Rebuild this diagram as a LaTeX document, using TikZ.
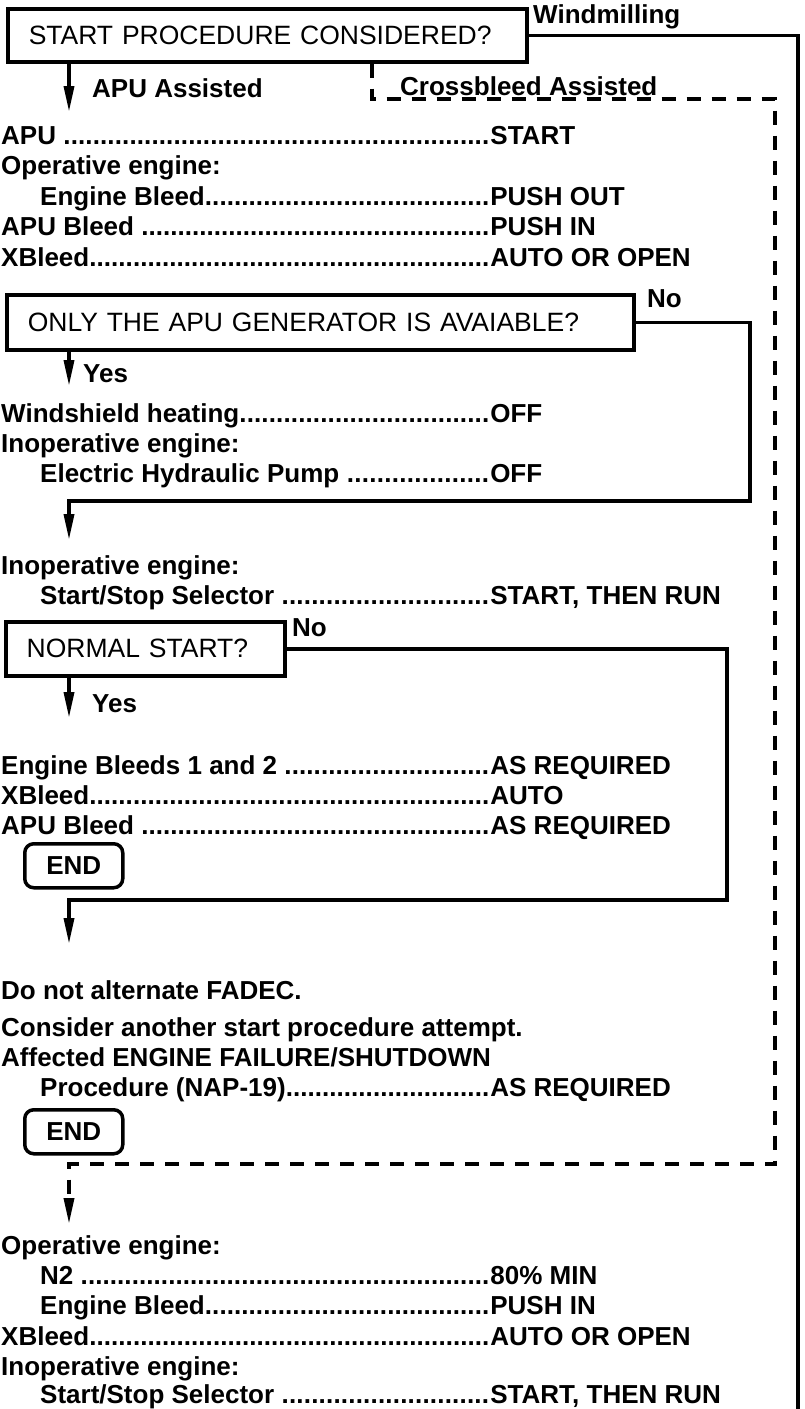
\documentclass[tikz,border=0pt]{standalone}
\usepackage{fontspec}
\setmainfont{Liberation Sans}
\usetikzlibrary{arrows.meta}
\newcommand{\lead}[3]{\makebox[#1pt][l]{#2\xleaders\hbox{.}\hfill\kern1pt}#3}
\tikzset{
  x=1pt, y=-1pt,
  qbox/.style={draw, line width=3.5pt, inner xsep=21pt, inner ysep=0pt, anchor=north west,
    align=left, font=\fontsize{26.5}{30}\selectfont},
  endbox/.style={draw, line width=3.5pt, rounded corners=9pt, anchor=north west, inner sep=0pt,
    minimum width=98pt, minimum height=44pt, font=\bfseries\fontsize{26}{30}\selectfont},
  row/.style={anchor=base west, inner sep=0pt, font=\bfseries\fontsize{26}{30}\selectfont},
  lbl/.style={anchor=base west, inner sep=0pt, font=\bfseries\fontsize{26}{30}\selectfont},
  conn/.style={line width=3.5pt},
  arr/.style={line width=3.5pt, -{Triangle[length=26pt,width=10pt]}},
  dconn/.style={line width=3.5pt, dash pattern=on 14pt off 11pt},
}
\begin{document}
\begin{tikzpicture}
\useasboundingbox (0,0) rectangle (805,1409);

% question boxes
\node[qbox, text width=477pt, minimum height=53pt] (start) at (6,7) {START PROCEDURE CONSIDERED?};
\node[qbox, text width=585pt, minimum height=55pt] (only) at (5,293) {ONLY THE APU GENERATOR IS AVAIABLE?};
\node[qbox, text width=237pt, minimum height=54pt] (normal) at (4,620) {NORMAL START?};

% labels
\node[lbl] (lwind) at (533,23) {Windmilling};
\node[lbl] (lapu) at (92,97) {APU Assisted};
\node[lbl] (lxb) at (400,95) {Crossbleed Assisted};
\node[lbl] (lno1) at (647,307) {No};
\node[lbl] (lyes1) at (83,382) {Yes};
\node[lbl] (lno2) at (292,636) {No};
\node[lbl] (lyes2) at (92,712) {Yes};

% APU assisted rows
\node[row] (r1) at (1,144) {\lead{489}{APU }{START}};
\node[row] (r2) at (1,174) {Operative engine:};
\node[row] (r3) at (40,205) {\lead{450}{Engine Bleed}{PUSH OUT}};
\node[row] (r4) at (1,235) {\lead{489}{APU Bleed }{PUSH IN}};
\node[row] (r5) at (1,266) {\lead{489}{XBleed}{AUTO OR OPEN}};

\node[row] (r6) at (1,422) {\lead{489}{Windshield heating}{OFF}};
\node[row] (r7) at (1,452) {Inoperative engine:};
\node[row] (r8) at (40,482) {\lead{450}{Electric Hydraulic Pump }{OFF}};

\node[row] (r9) at (1,574) {Inoperative engine:};
\node[row] (r10) at (40,604) {\lead{450}{Start/Stop Selector }{START, THEN RUN}};

\node[row] (r11) at (1,774) {\lead{489}{Engine Bleeds 1 and 2 }{AS REQUIRED}};
\node[row] (r12) at (1,804) {\lead{489}{XBleed}{AUTO}};
\node[row] (r13) at (1,834) {\lead{489}{APU Bleed }{AS REQUIRED}};
\node[endbox] (end1) at (23,842) {END};

\node[row] (r14) at (1,999) {Do not alternate FADEC.};
\node[row] (r15) at (1,1036) {Consider another start procedure attempt.};
\node[row] (r16) at (1,1066) {Affected ENGINE FAILURE/SHUTDOWN};
\node[row] (r17) at (40,1096) {\lead{450}{Procedure (NAP-19)}{AS REQUIRED}};
\node[endbox] (end2) at (23,1108) {END};

\node[row] (r18) at (1,1254) {Operative engine:};
\node[row] (r19) at (40,1284) {\lead{450}{N2 }{80\% MIN}};
\node[row] (r20) at (40,1314) {\lead{450}{Engine Bleed}{PUSH IN}};
\node[row] (r21) at (1,1345) {\lead{489}{XBleed}{AUTO OR OPEN}};
\node[row] (r22) at (1,1375) {Inoperative engine:};
\node[row] (r23) at (40,1403) {\lead{450}{Start/Stop Selector }{START, THEN RUN}};

% coordinates
\coordinate (a1) at (69,112);
\coordinate (w1) at (798,1409);
\coordinate (c0) at (372,99);
\coordinate (c1) at (775,99);
\coordinate (c2) at (775,1164);
\coordinate (c3) at (69,1164);
\coordinate (c4) at (69,1224);
\coordinate (y1) at (69,386);
\coordinate (n1) at (750,501);
\coordinate (n2) at (69,501);
\coordinate (n3) at (69,540);
\coordinate (y2) at (69,718);
\coordinate (m1) at (727,900);
\coordinate (m2) at (69,900);
\coordinate (m3) at (69,944);

% connectors
\draw[arr] (start.south -| a1) -- (a1);
\draw[conn] (start.east) -| (w1);
\draw[dconn, -{Triangle[length=26pt,width=10pt]}] (start.south -| c0) -- (c0) -- (c1) -- (c2) -- (c3) -- (c4);
\draw[arr] (only.south -| y1) -- (y1);
\draw[arr] (only.east) -| (n1) -- (n2) -- (n3);
\draw[arr] (normal.south -| y2) -- (y2);
\draw[arr] (normal.east) -| (m1) -- (m2) -- (m3);
\end{tikzpicture}
\end{document}
